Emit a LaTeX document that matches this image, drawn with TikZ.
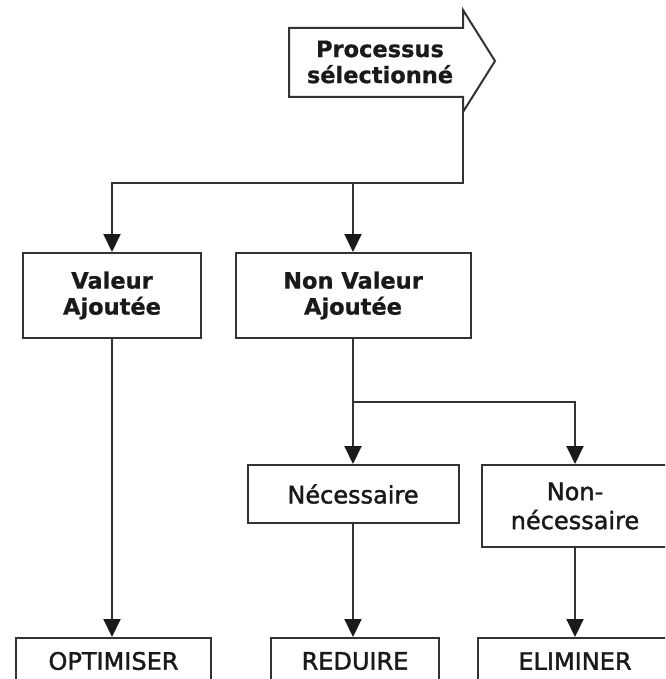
\documentclass[tikz,border=0pt]{standalone}
\usepackage{fontspec}
\setmainfont{DejaVu Sans}
\newfontfamily\semibold[FakeBold=1.6]{DejaVu Sans}
\newfontfamily\heavy[FakeBold=0.8]{DejaVu Sans Bold}
\usetikzlibrary{arrows.meta}
\definecolor{ink}{HTML}{1A1A1A}
\definecolor{wirecol}{HTML}{333333}
\begin{document}
\begin{tikzpicture}[x=1pt,y=-1pt,
  box/.style={draw=wirecol, line width=2pt, fill=white, inner sep=0pt, align=center, text=ink},
  boldlbl/.style={font=\heavy\fontsize{22.5}{26}\selectfont},
  midlbl/.style={font=\semibold\fontsize{24}{29}\selectfont},
  link/.style={draw=wirecol, line width=2pt},
  flow/.style={link, -{Triangle[width=17pt,length=18pt,color=ink]}},
]
\useasboundingbox (0,0) rectangle (665,679);
\clip (0,0) rectangle (665,679);
\fill[white] (0,0) rectangle (665,679);

% entry arrow
\draw[link, fill=white, line join=miter]
  (289,28) -- (463,28) -- (463,10) -- (495,61) -- (463,112) -- (463,97) -- (289,97) -- cycle;
\node[boldlbl, align=center, text=ink, inner sep=0pt] (proc) at (380,62) {Processus\\sélectionné};
\coordinate (procfoot) at (463,112);

% first level
\node[box, boldlbl, minimum width=178pt, minimum height=85pt] (val) at (112,295.5) {Valeur\\Ajoutée};
\node[box, boldlbl, minimum width=235pt, minimum height=85pt] (nva) at (353,295.5) {Non Valeur\\Ajoutée};

% second level
\node[box, midlbl, minimum width=211pt, minimum height=58pt] (nec) at (353,494) {Nécessaire};
\node[box, midlbl, minimum width=186pt, minimum height=82pt] (nn) at (575,506) {Non-\\nécessaire};

% actions
\node[box, midlbl, minimum width=195pt, minimum height=46pt] (opt) at (113.5,661) {OPTIMISER};
\node[box, midlbl, minimum width=168pt, minimum height=46pt] (red) at (355,661) {REDUIRE};
\node[box, midlbl, minimum width=194pt, minimum height=46pt] (eli) at (575,661) {ELIMINER};

% connectors
\coordinate (bus1) at (353,183);
\coordinate (bus2) at (353,402);
\draw[link] (procfoot) |- (bus1);
\draw[flow] (bus1) -| (val.north);
\draw[flow] (bus1) -- (nva.north);
\draw[link] (nva.south) -- (bus2);
\draw[flow] (bus2) -- (nec.north);
\draw[flow] (bus2) -| (nn.north);
\draw[flow] (val.south) -- (val.south |- opt.north);
\draw[flow] (nec.south) -- (nec.south |- red.north);
\draw[flow] (nn.south) -- (nn.south |- eli.north);
\end{tikzpicture}
\end{document}
